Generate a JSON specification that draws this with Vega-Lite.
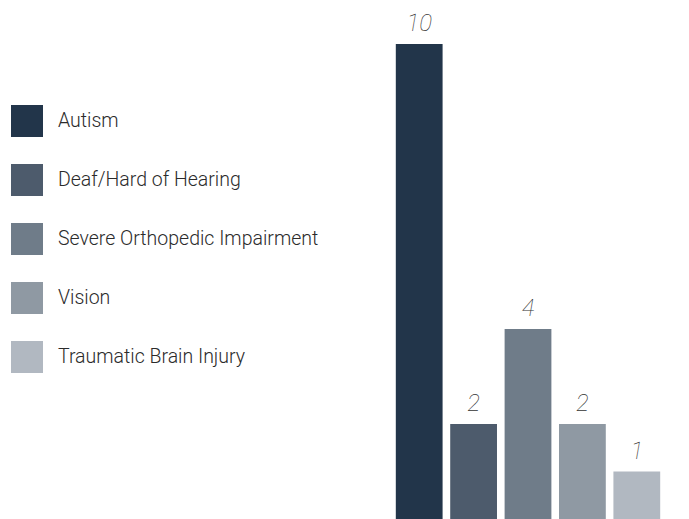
{
  "$schema": "https://vega.github.io/schema/vega-lite/v6.json",
  "width": 272,
  "height": 475,
  "autosize": {"type": "none"},
  "padding": {"left": 392, "top": 44, "right": 25, "bottom": 0},
  "background": "white",
  "config": {"view": {"stroke": null}, "font": "Roboto"},
  "data": {"values": [
    {"category": "Autism", "count": 10},
    {"category": "Deaf/Hard of Hearing", "count": 2},
    {"category": "Severe Orthopedic Impairment", "count": 4},
    {"category": "Vision", "count": 2},
    {"category": "Traumatic Brain Injury", "count": 1}
  ]},
  "encoding": {
    "x": {"field": "category", "type": "nominal", "sort": null, "axis": null,
          "scale": {"paddingInner": 0.14, "paddingOuter": 0.07}},
    "y": {"field": "count", "type": "quantitative", "axis": null,
          "scale": {"domain": [0, 10], "nice": false}}
  },
  "layer": [
    {"mark": {"type": "bar"},
     "encoding": {
       "color": {"field": "category", "type": "nominal", "sort": null,
         "scale": {"domain": ["Autism", "Deaf/Hard of Hearing", "Severe Orthopedic Impairment", "Vision", "Traumatic Brain Injury"],
                   "range": ["#22354a", "#4d5b6c", "#6f7c89", "#8f99a3", "#b1b8c1"]},
         "legend": {"title": null, "orient": "none", "legendX": -381, "legendY": 61,
           "symbolType": "square", "symbolSize": 1024, "symbolStrokeWidth": 0, "symbolOpacity": 1,
           "labelFontSize": 19.5, "labelColor": "#2b2b2b", "labelFont": "Roboto", "labelFontWeight": 300,
           "labelOffset": 15, "rowPadding": 27, "padding": 0, "offset": 0, "labelLimit": 400}}
     }},
    {"mark": {"type": "text", "baseline": "alphabetic", "dy": -13, "fontSize": 24,
              "fontStyle": "italic", "fontWeight": 100, "font": "Roboto", "color": "#333333"},
     "encoding": {"text": {"field": "count", "type": "quantitative"}}}
  ]
}
